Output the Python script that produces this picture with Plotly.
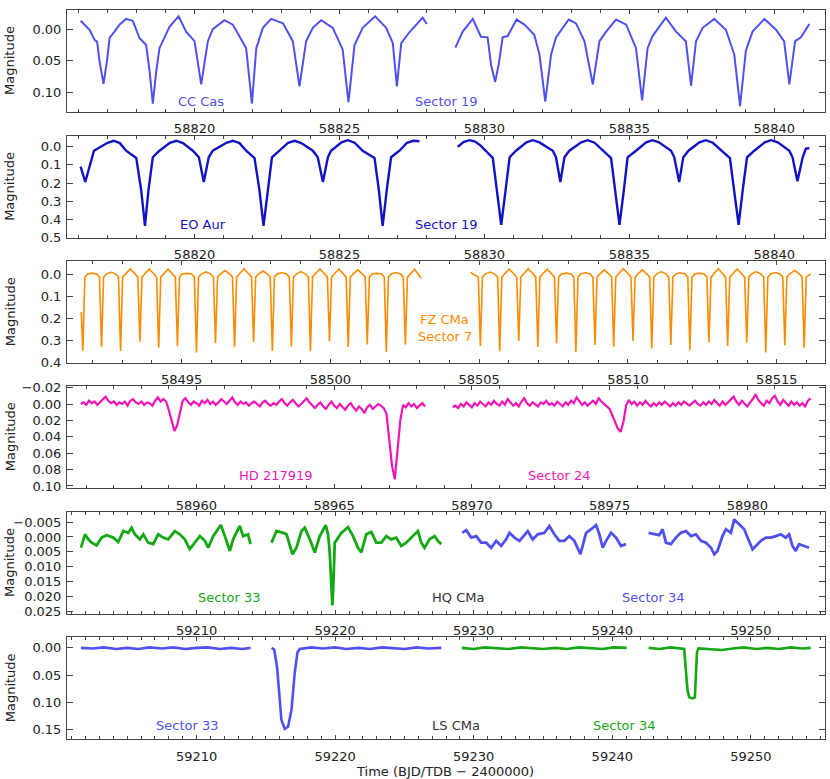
import numpy as np
import plotly.graph_objects as go

# ---------------- data ----------------
# CC Cas, sector 19 (time, magnitude), two orbits
cc_t1 = [58816.07, 58816.38, 58816.55, 58816.64, 58816.72, 58816.86, 58816.98, 58817.07, 58817.24, 58817.41,
         58817.64, 58817.87, 58818.10, 58818.33, 58818.45, 58818.56, 58818.68, 58818.79, 58819.14, 58819.45,
         58819.71, 58820.00, 58820.23, 58820.46, 58820.63, 58821.03, 58821.32, 58821.78, 58821.98, 58822.13,
         58822.36, 58822.64, 58823.05, 58823.39, 58823.62, 58823.85, 58824.08, 58824.37, 58824.77, 58825.11,
         58825.31, 58825.52, 58825.80, 58826.23, 58826.61, 58826.84, 58826.98, 58827.13, 58827.41, 58827.87,
         58828.01]
cc_m1 = [-0.013, 0.001, 0.017, 0.020, 0.050, 0.086, 0.050, 0.014, 0.004, -0.007,
         -0.016, -0.013, 0.014, 0.025, 0.066, 0.117, 0.066, 0.030, -0.004, -0.020,
         0.004, 0.019, 0.087, 0.019, 0.000, -0.014, -0.007, 0.030, 0.117, 0.030,
         -0.002, -0.016, -0.009, 0.019, 0.090, 0.019, -0.002, -0.014, -0.002, 0.032,
         0.115, 0.025, -0.002, -0.020, -0.002, 0.022, 0.090, 0.022, 0.005, -0.018,
         -0.008]
cc_t2 = [58829.00, 58829.25, 58829.60, 58829.88, 58830.11, 58830.23, 58830.37, 58830.49, 58830.63, 58830.80,
         58831.11, 58831.38, 58831.72, 58831.90, 58832.10, 58832.30, 58832.47, 58832.91, 58833.16, 58833.45,
         58833.74, 58833.97, 58834.20, 58834.54, 58834.89, 58835.23, 58835.44, 58835.63, 58835.80, 58836.26,
         58836.61, 58836.95, 58837.13, 58837.30, 58837.53, 58837.93, 58838.33, 58838.62, 58838.82, 58839.02,
         58839.25, 58839.66, 58840.06, 58840.34, 58840.52, 58840.72, 58840.92, 58841.21]
cc_m2 = [0.029, 0.004, -0.016, 0.012, 0.013, 0.056, 0.083, 0.056, 0.013, 0.011,
         -0.015, -0.007, 0.009, 0.040, 0.114, 0.040, 0.013, -0.015, -0.009, 0.019,
         0.087, 0.019, 0.004, -0.015, -0.007, 0.030, 0.112, 0.030, 0.011, -0.018,
         0.004, 0.019, 0.089, 0.019, -0.002, -0.016, 0.001, 0.040, 0.121, 0.034,
         0.004, -0.016, 0.001, 0.019, 0.087, 0.019, 0.013, -0.008]

# EO Aur, sector 19
eo_t1 = [58816.07, 58816.23, 58816.53, 58816.72, 58817.00, 58817.21, 58817.42, 58817.64, 58817.99, 58818.16,
         58818.29, 58818.41, 58818.56, 58818.79, 58819.15, 58819.37, 58819.60, 58819.94, 58820.15, 58820.32,
         58820.49, 58820.63, 58821.10, 58821.32, 58821.55, 58821.78, 58822.07, 58822.24, 58822.38, 58822.53,
         58822.67, 58822.93, 58823.23, 58823.45, 58823.68, 58824.08, 58824.25, 58824.43, 58824.60, 58824.71,
         58825.07, 58825.29, 58825.52, 58825.80, 58826.21, 58826.36, 58826.49, 58826.63, 58826.78, 58827.07,
         58827.33, 58827.55, 58827.76]
eo_m1 = [0.109, 0.194, 0.022, 0.004, -0.022, -0.033, -0.020, 0.022, 0.062, 0.240,
         0.436, 0.240, 0.058, 0.022, -0.022, -0.033, -0.020, 0.022, 0.058, 0.194,
         0.058, 0.022, -0.022, -0.033, -0.020, 0.022, 0.062, 0.240, 0.436, 0.240,
         0.058, 0.022, -0.022, -0.033, -0.020, 0.022, 0.058, 0.194, 0.058, 0.022,
         -0.024, -0.036, -0.022, 0.022, 0.062, 0.240, 0.436, 0.240, 0.058, 0.022,
         -0.022, -0.033, -0.030]
eo_t2 = [58829.08, 58829.28, 58829.48, 58829.68, 58829.88, 58830.29, 58830.43, 58830.58, 58830.73, 58830.87,
         58831.09, 58831.45, 58831.67, 58831.90, 58832.36, 58832.47, 58832.62, 58832.76, 58832.93, 58833.34,
         58833.56, 58833.80, 58834.37, 58834.52, 58834.66, 58834.81, 58834.94, 58835.23, 58835.58, 58835.80,
         58836.02, 58836.44, 58836.55, 58836.72, 58836.86, 58837.04, 58837.42, 58837.64, 58837.88, 58838.47,
         58838.62, 58838.77, 58838.91, 58839.06, 58839.31, 58839.67, 58839.89, 58840.12, 58840.52, 58840.63,
         58840.80, 58840.98, 58841.09, 58841.21]
eo_m2 = [0.000, -0.026, -0.036, -0.028, -0.005, 0.062, 0.240, 0.430, 0.240, 0.058,
         0.022, -0.024, -0.036, -0.024, 0.022, 0.058, 0.194, 0.058, 0.022, -0.024,
         -0.036, -0.022, 0.062, 0.240, 0.430, 0.240, 0.058, 0.022, -0.024, -0.036,
         -0.024, 0.022, 0.058, 0.194, 0.058, 0.022, -0.024, -0.036, -0.022, 0.062,
         0.240, 0.430, 0.240, 0.058, 0.022, -0.024, -0.036, -0.024, 0.022, 0.058,
         0.190, 0.058, 0.010, 0.008]

# FZ CMa, sector 7: eclipse minima and the maximum between consecutive minima
fz_min_t = [58491.68, 58492.31, 58492.95, 58493.60, 58494.23, 58494.86, 58495.50, 58496.14, 58496.78,
            58497.42, 58498.05, 58498.69, 58499.33, 58499.97, 58500.60, 58501.24, 58501.88, 58502.52,
            58505.04, 58505.69, 58506.33, 58506.97, 58507.60, 58508.25, 58508.89, 58509.52, 58510.17,
            58510.80, 58511.44, 58512.08, 58512.72, 58513.35, 58513.99, 58514.63, 58515.27, 58515.92]
fz_min_m = [0.347, 0.329, 0.347, 0.305, 0.332, 0.324, 0.354, 0.312, 0.329,
            0.306, 0.347, 0.327, 0.347, 0.303, 0.329, 0.317, 0.351, 0.317,
            0.324, 0.348, 0.302, 0.329, 0.312, 0.351, 0.320, 0.329, 0.302,
            0.336, 0.320, 0.344, 0.308, 0.324, 0.309, 0.354, 0.321, 0.332]
fz_top1 = [-0.006, -0.010, -0.025, -0.025, -0.024, -0.005, -0.012, -0.018, -0.025,
           -0.016, -0.008, -0.013, -0.025, -0.025, -0.021, -0.005, -0.009]
fz_top2 = [-0.011, -0.024, -0.026, -0.024, -0.006, -0.008, -0.021, -0.026, -0.021,
           -0.013, -0.008, -0.006, -0.026, -0.024, -0.013, -0.009, -0.018]
fz_head1_t, fz_head1_m = [58491.63], [0.170]
fz_tail1_t, fz_tail1_m = [58502.83, 58503.05], [-0.024, 0.017]
fz_head2_t, fz_head2_m = [58504.71], [-0.009]
fz_tail2_t, fz_tail2_m = [58516.14], [-0.003]
fz_shoulder = 0.012   # magnitude at eclipse contacts
fz_plateau = -0.002   # out-of-eclipse level next to the contacts

# HD 217919, sector 24: millimag at a 0.1 d cadence, two orbits
hd_start_a = 58955.8
hd_a = [0, -2, 1, -4, -1, -3, 1, -2, -5, -9,
        -4, -1, -3, 1, -2, 0, -3, 2, -4, -6,
        -2, 0, -3, 1, -2, -1, 2, -4, -8, -3,
        -6, -3, 8, 20, 33, 26, 12, -4, -7, -2,
        1, -3, -1, 2, -4, -1, -5, 0, -3, 1,
        -2, -6, -3, 0, -4, -8, -2, 1, -3, 0,
        -2, 2, -1, -3, 0, 3, -2, -4, 0, 2,
        -1, 1, -3, -6, -1, 2, -2, -5, -1, 3,
        0, -4, -7, -2, 2, 5, 1, -2, 3, 6,
        1, -3, 2, 5, 0, 3, 7, 2, -1, 4,
        8, 3, 6, 11, 4, 1, 6, 3, 0, 2,
        5, 12, 40, 75, 92, 60, 20, 1, 4, -1,
        3, 0, 5, 2, -1, 3]
hd_start_b = 58969.3
hd_b = [4, 2, 5, 0, 3, -2, 1, 4, -1, 2,
        -3, 0, 3, -2, 1, -4, 0, 2, -3, 1,
        -6, -2, 2, -1, 3, -3, -7, -1, 2, -2,
        1, 3, -2, 0, -4, 1, -1, 2, -3, 0,
        3, -2, 1, -4, -1, -8, -3, 1, -2, 2,
        -1, -4, 0, -7, -3, 0, 2, 6, 14, 22,
        30, 34, 22, 2, -5, 0, -3, 2, -2, 1,
        -4, 0, 3, -1, 2, -2, 1, -3, 0, 3,
        -1, 2, -2, 1, -3, 0, 2, -1, -4, 0,
        2, -2, 1, -3, 0, -5, -1, 2, -3, 1,
        -2, -6, -9, -3, 1, -4, 0, 3, -2, -6,
        -12, -5, -1, 2, -4, -1, -7, -10, -3, 1,
        -5, -1, 2, -3, 1, -2, 2, -1, 3, -4,
        -7]
hd_cadence = 0.1

# HQ CMa (millimag), sector 33 green, sector 34 blue
hq_g1_t = [59201.66, 59201.95, 59202.19, 59202.43, 59202.79, 59203.15, 59203.51, 59203.99, 59204.35, 59204.71,
           59205.07, 59205.31, 59205.55, 59205.91, 59206.15, 59206.51, 59206.87, 59207.23, 59207.59, 59207.95,
           59208.43, 59208.79, 59209.15, 59209.51, 59209.87, 59210.24, 59210.60, 59210.84, 59211.20, 59211.44,
           59211.75, 59212.04, 59212.40, 59212.64, 59213.12, 59213.36, 59213.72, 59213.89]
hq_g1_m = [3.6, -0.9, 0.8, 1.9, 2.8, 0.2, -0.6, 0.2, 1.7, -2.0,
           -1.4, -3.1, -0.9, 0.8, -0.9, 1.9, 2.4, -0.9, 0.2, 0.8,
           -2.0, -0.9, 0.8, 4.1, 1.9, -0.3, 1.3, 3.6, -0.3, -2.0,
           -4.0, -0.3, 4.7, 0.8, -3.7, -0.3, -0.9, 2.4]
hq_g2_t = [59215.41, 59215.77, 59216.25, 59216.49, 59216.92, 59217.21, 59217.57, 59217.81, 59218.17, 59218.53,
           59218.89, 59219.32, 59219.49, 59219.61, 59219.73, 59219.80, 59219.87, 59219.97, 59220.14, 59220.45,
           59220.93, 59221.29, 59221.65, 59221.89, 59222.25, 59222.61, 59222.97, 59223.33, 59223.69, 59224.05,
           59224.41, 59224.77, 59225.13, 59225.61, 59225.97, 59226.22, 59226.45, 59226.81, 59227.18, 59227.41,
           59227.66]
hq_g2_m = [1.9, -2.0, -1.4, -0.9, 5.8, 3.6, -2.0, -3.1, 0.8, 5.2,
           -0.3, -4.0, -0.9, 5.2, 16.3, 23.0, 16.3, 1.9, 0.8, -1.4,
           -3.3, -0.3, 3.6, 5.2, -0.9, -1.7, 1.9, 1.9, -0.3, 0.8,
           0.2, 3.0, 1.9, -0.3, -2.0, 1.9, 3.6, 0.8, -0.3, 1.3,
           2.4]
hq_b1_t = [59229.17, 59229.46, 59229.82, 59230.18, 59230.54, 59230.90, 59231.26, 59231.62, 59231.98, 59232.34,
           59232.58, 59232.94, 59233.30, 59233.66, 59233.90, 59234.26, 59234.62, 59235.10, 59235.46, 59235.82,
           59236.18, 59236.54, 59236.90, 59237.26, 59237.50, 59237.70, 59237.86, 59238.11, 59238.47, 59238.83,
           59239.07, 59239.31, 59239.55, 59239.91, 59240.27, 59240.63, 59240.99]
hq_b1_m = [-1.4, -2.3, 0.2, -0.3, 1.9, 1.9, 3.6, 1.3, 3.0, 0.8,
           -1.4, 0.2, 1.3, -0.9, -2.0, 0.8, -0.9, -1.4, -3.7, -0.9,
           1.3, 1.3, -0.3, 1.3, 3.6, 5.8, 3.0, -1.4, -2.6, -4.0,
           -0.9, 3.6, 1.3, -1.4, 0.2, 3.0, 2.4]
hq_b2_t = [59242.62, 59243.03, 59243.39, 59243.63, 59243.87, 59244.23, 59244.59, 59244.95, 59245.32, 59245.68,
           59246.04, 59246.40, 59246.76, 59247.12, 59247.36, 59247.59, 59247.95, 59248.20, 59248.56, 59248.80,
           59249.16, 59249.52, 59249.76, 59250.12, 59250.36, 59250.72, 59251.08, 59251.44, 59251.80, 59252.16,
           59252.52, 59252.76, 59253.00, 59253.24, 59253.48, 59253.84, 59254.20]
hq_b2_m = [-1.4, -0.9, -0.6, -2.6, 1.9, 2.4, 0.2, -1.4, -2.0, -0.3,
           -0.9, 1.3, 1.9, 3.6, 5.8, 4.7, -0.3, -2.6, -1.4, -5.9,
           -4.2, -2.6, 0.2, 4.1, 3.0, 1.3, 0.2, 0.2, -0.3, -0.9,
           0.2, -0.9, 3.0, 4.7, 2.4, 3.0, 3.6]

# LS CMa, sector 33 blue, sector 34 green
ls_b1_t = [59201.66, 59202.5, 59203.3, 59204.2, 59205.0, 59205.8, 59206.6, 59207.5, 59208.3, 59209.2,
           59210.0, 59210.8, 59211.7, 59212.5, 59213.3, 59213.89]
ls_b1_m = [0.000, 0.001, -0.001, 0.002, 0.000, 0.002, -0.001, 0.001, -0.001, 0.002,
           0.000, -0.001, 0.002, 0.000, 0.002, 0.000]
ls_b2_t = [59215.41, 59215.60, 59215.81, 59215.96, 59216.12, 59216.36, 59216.60, 59216.85, 59217.08, 59217.28,
           59217.45, 59218.3, 59219.1, 59220.0, 59220.8, 59221.7, 59222.5, 59223.4, 59224.2, 59225.0,
           59225.9, 59226.7, 59227.66]
ls_b2_m = [0.000, 0.003, 0.035, 0.090, 0.132, 0.149, 0.145, 0.114, 0.047, 0.008,
           0.002, -0.001, 0.001, -0.001, 0.002, 0.000, 0.002, -0.001, 0.001, 0.002,
           -0.001, 0.001, 0.000]
ls_g1_t = [59229.14, 59230.0, 59230.8, 59231.7, 59232.5, 59233.4, 59234.2, 59235.0, 59235.9, 59236.7,
           59237.6, 59238.4, 59239.3, 59240.1, 59241.03]
ls_g1_m = [0.000, 0.002, -0.001, 0.001, 0.002, -0.001, 0.001, 0.002, 0.000, 0.002,
           -0.001, 0.001, 0.002, -0.001, 0.000]
ls_g2_t = [59242.62, 59243.4, 59244.2, 59245.0, 59245.19, 59245.31, 59245.43, 59245.55, 59245.79, 59245.96,
           59246.04, 59246.11, 59246.22, 59247.0, 59247.9, 59248.7, 59249.5, 59250.4, 59251.2, 59252.0,
           59252.9, 59253.7, 59254.32]
ls_g2_m = [0.000, 0.002, -0.001, 0.001, 0.002, 0.041, 0.078, 0.091, 0.093, 0.091,
           0.053, 0.008, 0.001, 0.002, 0.004, 0.001, -0.001, 0.002, 0.000, 0.002,
           -0.001, 0.001, 0.000]

# ---------------- helpers ----------------
def join(*segs):
    xs, ys = [], []
    for sx, sy in segs:
        xs += list(sx) + [None]
        ys += list(sy) + [None]
    return xs[:-1], ys[:-1]


def fz_segment(head_t, head_m, mins_t, mins_m, tops, tail_t, tail_m, half=0.07):
    t, m = list(head_t), list(head_m)
    for k, (tm, dm) in enumerate(zip(mins_t, mins_m)):
        if not t or t[-1] < tm - half:
            t.append(tm - half); m.append(fz_shoulder)
        t += [tm, tm + half]; m += [dm, fz_shoulder]
        if k < len(tops):
            nxt = mins_t[k + 1]
            t += [tm + 0.16, 0.5 * (tm + nxt), nxt - 0.16]
            m += [fz_plateau, tops[k], fz_plateau]
    return t + list(tail_t), m + list(tail_m)


def cadence(start, vals, step):
    return start + step * np.arange(len(vals)), np.array(vals) * 1e-3


# ---------------- figure ----------------
W, H = 830, 779
L, R, T, B = 67, 4, 5, 40
PW, PH = W - L - R, H - T - B

def px_x(px):
    return (px - L) / PW

def px_y(py):
    return (H - B - py) / PH

panels = [(5, 107.5), (131.7, 234.3), (258, 360.3), (383.3, 486.7), (510.7, 612.7), (636.7, 739)]
xranges = [[58815.6, 58841.75], [58815.6, 58841.75], [58491.15, 58516.62],
           [58955.3, 58982.82], [59200.65, 59255.35], [59200.65, 59255.35]]
yranges = [[0.13, -0.03], [0.501, -0.06], [0.401, -0.06],
           [0.103, -0.0223], [0.0257, -0.0083], [0.1676, -0.0193]]
xmajor = [(58820, 5), (58820, 5), (58495, 5), (58960, 5), (59210, 10), (59210, 10)]
ymajor = [(0.05, ".2f"), (0.1, ".1f"), (0.1, ".1f"), (0.02, ".2f"), (0.005, ".3f"), (0.05, ".2f")]

BLUE = "#5050F0"
DBLUE = "#1212C4"
ORANGE = "#FF8A00"
MAGENTA = "#F016B6"
GREEN = "#14A814"
FRAME = "#444444"
FONT = "DejaVu Sans"

fig = go.Figure()

def add(xy, color, width, row):
    sfx = "" if row == 1 else str(row)
    fig.add_trace(go.Scatter(x=xy[0], y=xy[1], mode="lines", connectgaps=False,
                             line=dict(color=color, width=width),
                             xaxis="x" + sfx, yaxis="y" + sfx, showlegend=False))

add(join((cc_t1, cc_m1), (cc_t2, cc_m2)), BLUE, 2, 1)
add(join((eo_t1, eo_m1), (eo_t2, eo_m2)), DBLUE, 2.4, 2)
fz1 = fz_segment(fz_head1_t, fz_head1_m, fz_min_t[:18], fz_min_m[:18], fz_top1, fz_tail1_t, fz_tail1_m)
fz2 = fz_segment(fz_head2_t, fz_head2_m, fz_min_t[18:], fz_min_m[18:], fz_top2, fz_tail2_t, fz_tail2_m)
add(join(fz1, fz2), ORANGE, 1.6, 3)
add(join(cadence(hd_start_a, hd_a, hd_cadence), cadence(hd_start_b, hd_b, hd_cadence)), MAGENTA, 2.2, 4)
add(join((hq_g1_t, np.array(hq_g1_m) * 1e-3), (hq_g2_t, np.array(hq_g2_m) * 1e-3)), GREEN, 2.8, 5)
add(join((hq_b1_t, np.array(hq_b1_m) * 1e-3), (hq_b2_t, np.array(hq_b2_m) * 1e-3)), BLUE, 2.8, 5)
add(join((ls_b1_t, ls_b1_m), (ls_b2_t, ls_b2_m)), BLUE, 2.6, 6)
add(join((ls_g1_t, ls_g1_m), (ls_g2_t, ls_g2_m)), GREEN, 2.6, 6)

tickfont = dict(family=FONT, size=13, color="#222222")
layout = {}
for i in range(6):
    sfx = "" if i == 0 else str(i + 1)
    top, bot = panels[i]
    layout["xaxis" + sfx] = dict(
        domain=[0, 1], anchor="y" + sfx, range=xranges[i],
        tick0=xmajor[i][0], dtick=xmajor[i][1], tickformat="d",
        ticks="inside", ticklen=4, tickcolor=FRAME, tickwidth=1,
        minor=dict(dtick=1, ticks="inside", ticklen=3, tickcolor=FRAME),
        showline=True, linecolor=FRAME, linewidth=1, mirror="allticks",
        showgrid=False, zeroline=False, tickfont=tickfont, ticklabelstandoff=5)
    layout["yaxis" + sfx] = dict(
        domain=[max(px_y(bot), 0), min(px_y(top), 1)], anchor="x" + sfx,
        range=yranges[i], tick0=0, dtick=ymajor[i][0], tickformat=ymajor[i][1],
        ticks="inside", ticklen=6, tickcolor=FRAME, tickwidth=1,
        showline=True, linecolor=FRAME, linewidth=1, mirror="allticks",
        showgrid=False, zeroline=False, tickfont=tickfont, ticklabelstandoff=2)

labels = [
    ("CC Cas", 201, 97, BLUE), ("Sector 19", 446, 97, BLUE),
    ("EO Aur", 203, 221, DBLUE), ("Sector 19", 446, 221, DBLUE),
    ("FZ CMa", 445, 317, ORANGE), ("Sector 7", 445, 334, ORANGE),
    ("HD 217919", 276, 474, MAGENTA), ("Sector 24", 560, 474, MAGENTA),
    ("Sector 33", 229, 597, GREEN), ("HQ CMa", 459, 597, "#333333"), ("Sector 34", 654, 597, BLUE),
    ("Sector 33", 187, 725, BLUE), ("LS CMa", 457, 725, "#333333"), ("Sector 34", 625, 725, GREEN),
]
ann = []
for text, x, y, col in labels:
    ann.append(dict(text=text, x=px_x(x), y=px_y(y), xref="paper", yref="paper",
                    xanchor="center", yanchor="middle",
                    showarrow=False, font=dict(family=FONT, size=13, color=col)))
for top, bot in panels:
    ann.append(dict(text="Magnitude", x=px_x(10), y=px_y(0.5 * (top + bot)), xref="paper", yref="paper",
                    xanchor="center", yanchor="middle",
                    showarrow=False, textangle=-90, font=dict(family=FONT, size=13, color="#222222")))
ann.append(dict(text="Time (BJD/TDB \u2212 2400000)", x=px_x(445), y=px_y(772), xref="paper", yref="paper",
                xanchor="center", yanchor="middle",
                showarrow=False, font=dict(family=FONT, size=13, color="#222222")))

fig.update_layout(
    width=W, height=H,
    margin=dict(l=L, r=R, t=T, b=B),
    paper_bgcolor="white", plot_bgcolor="white",
    showlegend=False, annotations=ann, **layout)

# the page's default body margin would shift the figure by 8 px
fig.write_html("out.html", config={"displayModeBar": False},
               post_script="document.body.style.margin='0px';")
